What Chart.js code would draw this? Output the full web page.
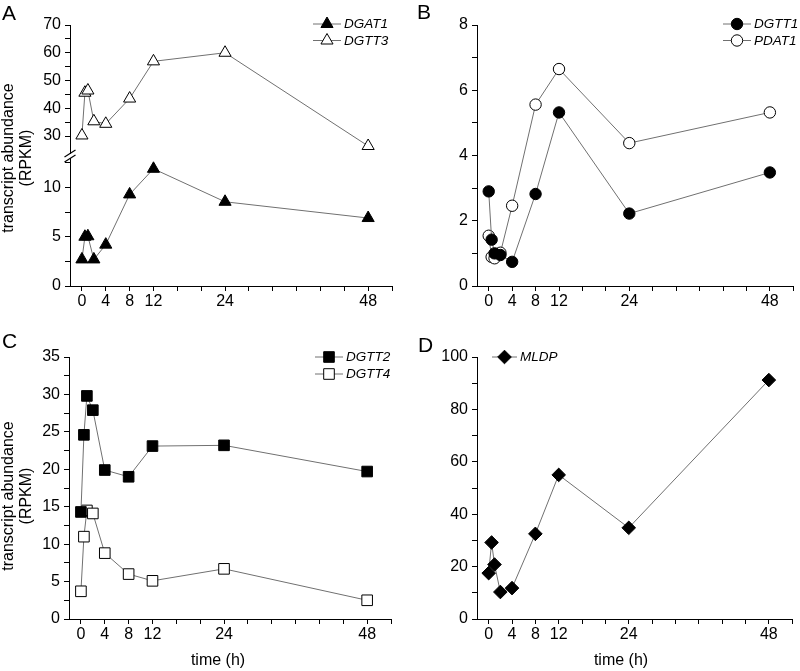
<!DOCTYPE html>
<html><head><meta charset="utf-8">
<script src="https://cdn.jsdelivr.net/npm/chart.js@4.4.1/dist/chart.umd.min.js"></script>
<style>
html,body{margin:0;padding:0;background:#fff;}
#wrap{position:relative;width:800px;height:671px;overflow:hidden;background:#fff;}
canvas{position:absolute;}
</style></head><body>
<div id="wrap">
<canvas id="cA" width="400" height="320" style="left:0;top:0"></canvas>
<canvas id="cB" width="400" height="320" style="left:400px;top:0"></canvas>
<canvas id="cC" width="400" height="351" style="left:0;top:320px"></canvas>
<canvas id="cD" width="400" height="351" style="left:400px;top:320px"></canvas>
</div>
<script>
// ---- data ----
const times = [0, 0.5, 1, 2, 4, 8, 12, 24, 48];
const dgat1 = [2.7, 5.0, 5.05, 2.7, 4.2, 9.3, 11.9, 8.55, 6.9];
const dgtt3 = [30.2, 45.6, 46.4, 35.3, 34.4, 43.5, 56.9, 60.0, 26.4];
const dgtt1 = [2.9, 1.42, 1.0, 0.95, 0.74, 2.82, 5.32, 2.22, 3.48];
const pdat1 = [1.54, 0.89, 0.85, 1.02, 2.46, 5.56, 6.65, 4.38, 5.32];
const dgtt2 = [14.3, 24.6, 29.8, 27.9, 19.9, 19.0, 23.1, 23.2, 19.7];
const dgtt4 = [3.7, 11.0, 14.5, 14.1, 8.8, 6.0, 5.1, 6.7, 2.5];
const mldp  = [17.5, 29.2, 20.8, 10.3, 11.8, 32.5, 55.0, 34.8, 91.2];

const xTicks = [0, 4, 8, 12, 16, 20, 24, 28, 32, 36, 40, 44, 48, 52];
const xLabels = [0, 4, 8, 12, 24, 48];
const aLowTicks = [0, 2.5, 5, 7.5, 10, 12.5];
const aLowLabels = [0, 5, 10];
const aHighTicks = [30, 35, 40, 45, 50, 55, 60, 65, 70];
const aHighLabels = [30, 40, 50, 60, 70];
const bTicks = [0, 1, 2, 3, 4, 5, 6, 7, 8];
const bLabels = [0, 2, 4, 6, 8];
const cTicks = [0, 2.5, 5, 7.5, 10, 12.5, 15, 17.5, 20, 22.5, 25, 27.5, 30, 32.5, 35];
const cLabels = [0, 5, 10, 15, 20, 25, 30, 35];
const dTicks = [0, 10, 20, 30, 40, 50, 60, 70, 80, 90, 100];
const dLabels = [0, 20, 40, 60, 80, 100];

const FONT = "'Liberation Sans', Arial, sans-serif";
const LINE = '#707070';

function pts(vals) { return times.map((t, i) => ({x: t, y: vals[i]})); }

function ds(label, vals, style, r, fill, yAxisID) {
  const d = {
    label, data: pts(vals), showLine: true, borderColor: LINE, borderWidth: 1,
    pointStyle: style, pointRadius: r, pointHoverRadius: r,
    pointBackgroundColor: fill, pointBorderColor: '#000', pointBorderWidth: 1,
    tension: 0, clip: false
  };
  if (yAxisID) d.yAxisID = yAxisID;
  return d;
}

function xScale(h) {
  return {
    type: 'linear', min: -2, max: 52,
    afterBuildTicks: s => { s.ticks = xTicks.map(v => ({value: v})); },
    afterFit: s => { s.height = h; },
    ticks: { autoSkip: false, maxRotation: 0, color: '#000', padding: 1,
      font: {family: FONT, size: 16},
      callback: v => xLabels.includes(v) ? String(v) : '' },
    grid: { drawOnChartArea: false, drawTicks: true, tickLength: 5, color: '#000', tickWidth: 1 },
    border: { display: true, color: '#000', width: 1 }
  };
}

function yScale(w, min, max, tickArr, labelArr, extra) {
  return Object.assign({
    type: 'linear', position: 'left', min, max,
    afterBuildTicks: s => { s.ticks = tickArr.map(v => ({value: v})); },
    afterFit: s => { s.width = w; },
    ticks: { autoSkip: false, color: '#000', padding: 4,
      font: {family: FONT, size: 16},
      callback: v => labelArr.includes(v) ? String(v) : '' },
    grid: { drawOnChartArea: false, drawTicks: true, tickLength: 5, color: '#000', tickWidth: 1 },
    border: { display: true, color: '#000', width: 1 }
  }, extra || {});
}

function drawMarker(ctx, d, x, y) {
  ctx.save();
  ctx.fillStyle = d.pointBackgroundColor;
  ctx.strokeStyle = d.pointBorderColor;
  ctx.lineWidth = d.pointBorderWidth;
  if (Chart.helpers && Chart.helpers.drawPoint) {
    Chart.helpers.drawPoint(ctx, {pointStyle: d.pointStyle, radius: d.pointRadius, borderWidth: d.pointBorderWidth, rotation: 0}, x, y);
  } else {
    ctx.beginPath(); ctx.arc(x, y, d.pointRadius, 0, Math.PI * 2); ctx.fill(); ctx.stroke();
  }
  ctx.restore();
}

const decor = {
  id: 'decor',
  afterDraw(chart, args, o) {
    const ctx = chart.ctx;
    // legend
    if (o.legend) {
      const L = o.legend;
      chart.data.datasets.forEach((d, i) => {
        const y = L.y + i * L.dy;
        ctx.save();
        ctx.strokeStyle = d.borderColor; ctx.lineWidth = 1;
        ctx.beginPath(); ctx.moveTo(L.x, y); ctx.lineTo(L.x + L.len, y); ctx.stroke();
        ctx.restore();
        drawMarker(ctx, d, L.x + L.len / 2, y);
        ctx.save();
        ctx.fillStyle = '#000'; ctx.font = 'italic 13.5px ' + FONT;
        ctx.textBaseline = 'middle'; ctx.textAlign = 'left';
        ctx.fillText(d.label, L.x + L.len + 3, y + 0.5);
        ctx.restore();
      });
    }
    // axis break
    if (o.brk) {
      const lo = chart.scales.yLow;
      const x = lo.right, y = lo.top;
      ctx.save();
      ctx.fillStyle = '#fff';
      ctx.fillRect(x - 1, y - 2, 2, 4);
      ctx.strokeStyle = '#000'; ctx.lineWidth = 1.2;
      [-2.4, 2.4].forEach(dy => {
        ctx.beginPath(); ctx.moveTo(x - 5.5, y + dy + 3.5); ctx.lineTo(x + 5.5, y + dy - 3.5); ctx.stroke();
      });
      ctx.restore();
    }
    // texts
    (o.texts || []).forEach(t => {
      ctx.save();
      ctx.fillStyle = '#000';
      ctx.font = (t.style || '') + ' ' + t.size + 'px ' + FONT;
      ctx.textAlign = t.align || 'center';
      ctx.textBaseline = t.base || 'middle';
      ctx.translate(t.x, t.y);
      if (t.rot) ctx.rotate(t.rot);
      ctx.fillText(t.text, 0, 0);
      ctx.restore();
    });
  }
};

function baseOpts() {
  return { responsive: false, animation: false, events: [],
    plugins: { legend: {display: false}, tooltip: {enabled: false} } };
}

// ---- Panel A (broken axis via stacked y scales) ----
new Chart(document.getElementById('cA'), {
  type: 'scatter',
  data: { datasets: [
    ds('DGAT1', dgat1, 'triangle', 7, '#000', 'yLow'),
    ds('DGTT3', dgtt3, 'triangle', 7, '#fff', 'yHigh')
  ]},
  options: Object.assign(baseOpts(), {
    layout: { padding: {left: 0, top: 25, right: 8, bottom: 0} },
    scales: {
      x: xScale(34),
      yLow: yScale(70, 0, 13.2, aLowTicks, aLowLabels, {stack: 'a', stackWeight: 130}),
      yHigh: yScale(70, 22.8, 70, aHighTicks, aHighLabels, {stack: 'a', stackWeight: 131})
    },
    plugins: { legend: {display: false}, tooltip: {enabled: false},
      decor: {
        legend: {x: 313, y: 24, dy: 16.5, len: 28},
        brk: true,
        texts: [
          {text: 'A', x: 2, y: 20, size: 21, align: 'left', base: 'alphabetic'},
          {text: 'transcript abundance', x: 9, y: 158, size: 16, rot: -Math.PI / 2},
          {text: '(RPKM)', x: 26.5, y: 158, size: 16, rot: -Math.PI / 2}
        ]
      } }
  }),
  plugins: [decor]
});

// ---- Panel B ----
new Chart(document.getElementById('cB'), {
  type: 'scatter',
  data: { datasets: [
    ds('DGTT1', dgtt1, 'circle', 5.7, '#000'),
    ds('PDAT1', pdat1, 'circle', 5.7, '#fff')
  ]},
  options: Object.assign(baseOpts(), {
    layout: { padding: {left: 0, top: 25, right: 1, bottom: 0} },
    scales: { x: xScale(34), y: yScale(77, 0, 8, bTicks, bLabels) },
    plugins: { legend: {display: false}, tooltip: {enabled: false},
      decor: {
        legend: {x: 323, y: 24, dy: 16.5, len: 28},
        texts: [ {text: 'B', x: 17, y: 19, size: 21, align: 'left', base: 'alphabetic'} ]
      } }
  }),
  plugins: [decor]
});

// ---- Panel C ----
new Chart(document.getElementById('cC'), {
  type: 'scatter',
  data: { datasets: [
    ds('DGTT2', dgtt2, 'rect', 7.5, '#000'),
    ds('DGTT4', dgtt4, 'rect', 7.5, '#fff')
  ]},
  options: Object.assign(baseOpts(), {
    layout: { padding: {left: 0, top: 37, right: 9, bottom: 0} },
    scales: { x: xScale(52), y: yScale(69, 0, 35, cTicks, cLabels) },
    plugins: { legend: {display: false}, tooltip: {enabled: false},
      decor: {
        legend: {x: 315, y: 37, dy: 17, len: 28},
        texts: [
          {text: 'C', x: 2, y: 28, size: 21, align: 'left', base: 'alphabetic'},
          {text: 'transcript abundance', x: 9, y: 176, size: 16, rot: -Math.PI / 2},
          {text: '(RPKM)', x: 26.5, y: 176, size: 16, rot: -Math.PI / 2},
          {text: 'time (h)', x: 218, y: 341, size: 16}
        ]
      } }
  }),
  plugins: [decor]
});

// ---- Panel D ----
new Chart(document.getElementById('cD'), {
  type: 'scatter',
  data: { datasets: [
    ds('MLDP', mldp, 'rectRot', 6.8, '#000')
  ]},
  options: Object.assign(baseOpts(), {
    layout: { padding: {left: 0, top: 37, right: 1, bottom: 0} },
    scales: { x: xScale(52), y: yScale(77, 0, 100, dTicks, dLabels) },
    plugins: { legend: {display: false}, tooltip: {enabled: false},
      decor: {
        legend: {x: 92, y: 37, dy: 17, len: 25},
        texts: [
          {text: 'D', x: 18, y: 32, size: 21, align: 'left', base: 'alphabetic'},
          {text: 'time (h)', x: 221, y: 341, size: 16}
        ]
      } }
  }),
  plugins: [decor]
});
</script>
</body></html>
